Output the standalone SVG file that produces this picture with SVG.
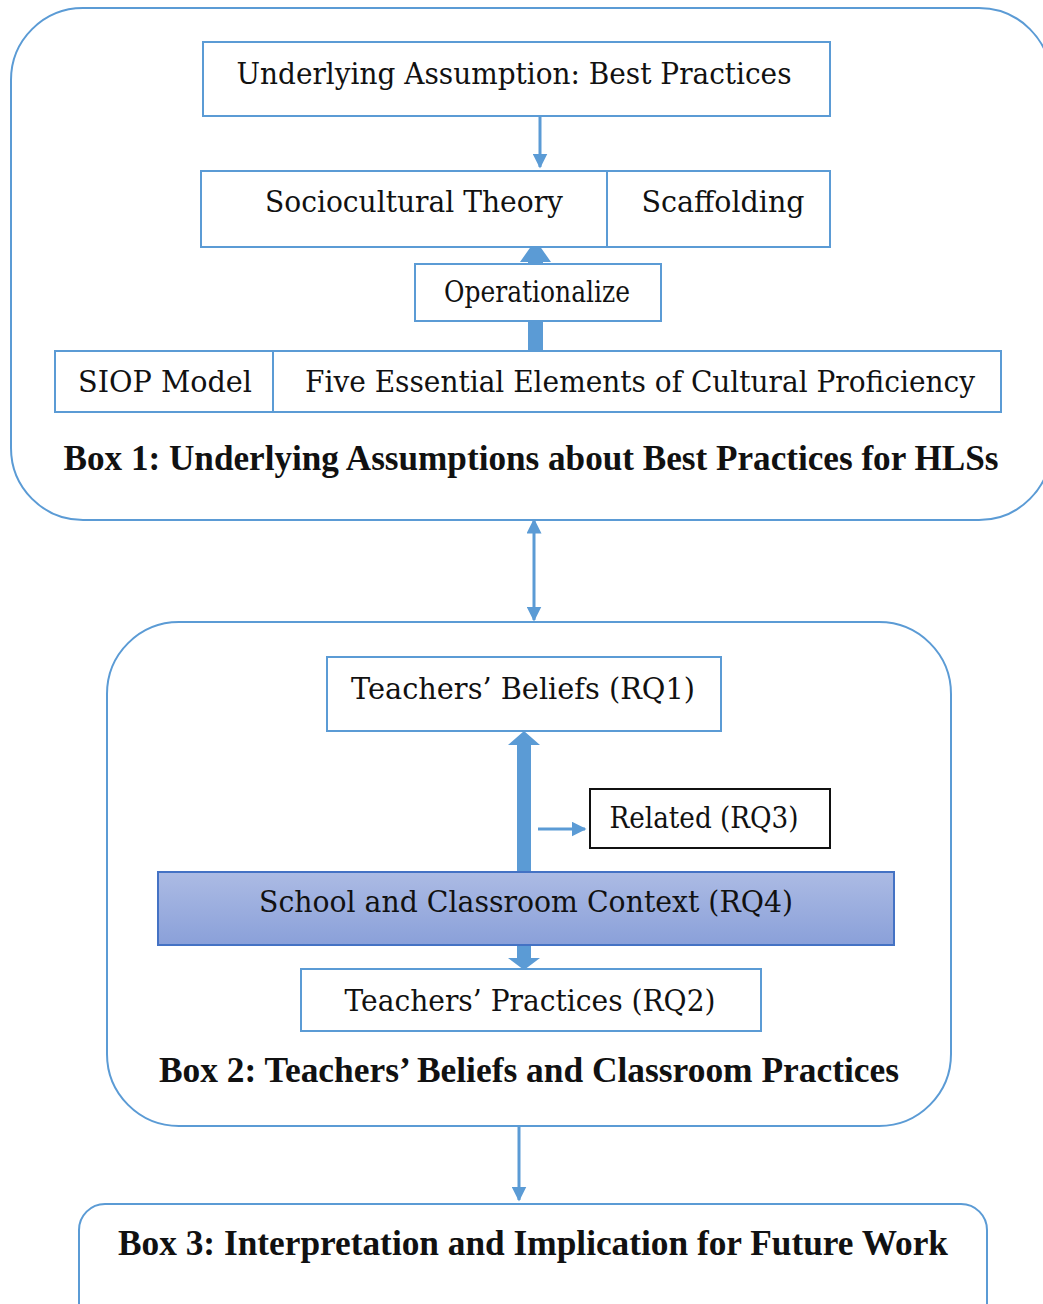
<svg xmlns="http://www.w3.org/2000/svg" width="1043" height="1304" viewBox="0 0 1043 1304">
<style>
.outer{fill:#fff;stroke:#5b9bd5;stroke-width:2}
.box{fill:#fff;stroke:#5b9bd5;stroke-width:2}
.t{font-family:"DejaVu Serif",serif;font-size:30px;fill:#111;text-anchor:middle}
.b{font-family:"Liberation Serif",serif;font-size:35px;font-weight:bold;fill:#111;text-anchor:middle}
.ln{stroke:#5b9bd5;stroke-width:3;fill:none}
.blk{fill:#5b9bd5}
</style>
<defs>
<marker id="ah" viewBox="0 0 10 10" refX="9" refY="5" markerWidth="5" markerHeight="5" orient="auto-start-reverse" markerUnits="strokeWidth">
<path d="M0,0 L10,5 L0,10 z" fill="#5b9bd5"/>
</marker>
<linearGradient id="gr" x1="0" y1="0" x2="0" y2="1">
<stop offset="0" stop-color="#acbbe4"/>
<stop offset="1" stop-color="#8aa0d9"/>
</linearGradient>
</defs>
<g id="box1">
<rect class="outer" x="11" y="8" width="1040" height="512" rx="72"/>
<text class="b" x="531" y="470" textLength="935" lengthAdjust="spacingAndGlyphs">Box 1: Underlying Assumptions about Best Practices for HLSs</text>
</g>
<g id="box2">
<rect class="outer" x="107" y="622" width="844" height="504" rx="72"/>
<text class="b" x="529" y="1082" textLength="740" lengthAdjust="spacingAndGlyphs">Box 2: Teachers’ Beliefs and Classroom Practices</text>
</g>
<g id="box3">
<rect class="outer" x="79" y="1204" width="908" height="130" rx="26"/>
<text class="b" x="533" y="1255" textLength="830" lengthAdjust="spacingAndGlyphs">Box 3: Interpretation and Implication for Future Work</text>
</g>
<g id="connectors">
<line class="ln" x1="540" y1="116" x2="540" y2="167" marker-end="url(#ah)"/>
<path class="blk" d="M528,351 L528,262 L520,262 L535.5,240 L551,262 L543,262 L543,351 z"/>
<line class="ln" x1="534" y1="520" x2="534" y2="620" stroke-width="4" marker-start="url(#ah)" marker-end="url(#ah)"/>
<path class="blk" d="M517,872 L517,745 L508,745 L524,731 L540,745 L531,745 L531,872 z"/>
<path class="blk" d="M517,945 L517,958 L508,958 L524,970 L540,958 L531,958 L531,945 z"/>
<line class="ln" x1="538" y1="829" x2="585" y2="829" marker-end="url(#ah)"/>
<line class="ln" x1="519" y1="1126" x2="519" y2="1200" marker-end="url(#ah)"/>
</g>
<g id="n-underlying">
<rect class="box" x="203" y="42" width="627" height="74"/>
<text class="t" x="514" y="84" textLength="555" lengthAdjust="spacingAndGlyphs">Underlying Assumption: Best Practices</text>
</g>
<g id="n-sociocultural">
<rect class="box" x="201" y="171" width="406" height="76"/>
<text class="t" x="414" y="212" textLength="298" lengthAdjust="spacingAndGlyphs">Sociocultural Theory</text>
</g>
<g id="n-scaffolding">
<rect class="box" x="607" y="171" width="223" height="76"/>
<text class="t" x="723" y="212" textLength="163" lengthAdjust="spacingAndGlyphs">Scaffolding</text>
</g>
<g id="n-operationalize">
<rect class="box" x="415" y="264" width="246" height="57"/>
<text class="t" x="537" y="302" font-size="27" textLength="186" lengthAdjust="spacingAndGlyphs">Operationalize</text>
</g>
<g id="n-siop">
<rect class="box" x="55" y="351" width="218" height="61"/>
<text class="t" x="165" y="392" textLength="174" lengthAdjust="spacingAndGlyphs">SIOP Model</text>
</g>
<g id="n-five">
<rect class="box" x="273" y="351" width="728" height="61"/>
<text class="t" x="640" y="392" font-size="28" textLength="670" lengthAdjust="spacingAndGlyphs">Five Essential Elements of Cultural Proficiency</text>
</g>
<g id="n-beliefs">
<rect class="box" x="327" y="657" width="394" height="74"/>
<text class="t" x="523" y="699" textLength="344" lengthAdjust="spacingAndGlyphs">Teachers’ Beliefs (RQ1)</text>
</g>
<g id="n-related">
<rect x="590" y="789" width="240" height="59" fill="#fff" stroke="#111" stroke-width="2"/>
<text class="t" x="704" y="828" font-size="28" textLength="189" lengthAdjust="spacingAndGlyphs">Related (RQ3)</text>
</g>
<g id="n-context">
<rect x="158" y="872" width="736" height="73" fill="url(#gr)" stroke="#4472c4" stroke-width="2"/>
<text class="t" x="526" y="912" textLength="534" lengthAdjust="spacingAndGlyphs">School and Classroom Context (RQ4)</text>
</g>
<g id="n-practices">
<rect class="box" x="301" y="969" width="460" height="62"/>
<text class="t" x="530" y="1011" textLength="371" lengthAdjust="spacingAndGlyphs">Teachers’ Practices (RQ2)</text>
</g>
</svg>
